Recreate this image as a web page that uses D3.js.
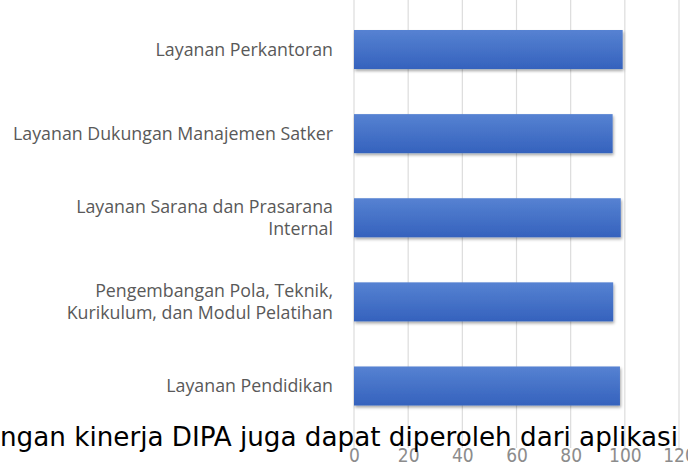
<!DOCTYPE html>
<html>
<head>
<meta charset="utf-8">
<script src="https://cdn.jsdelivr.net/npm/d3@7"></script>
<style>
  body { margin: 0; background: #fff; }
  svg { display: block; }
</style>
</head>
<body>
<script>
// Data
var categories = [
  "Layanan Perkantoran",
  "Layanan Dukungan Manajemen Satker",
  "Layanan Sarana dan Prasarana Internal",
  "Pengembangan Pola, Teknik, Kurikulum, dan Modul Pelatihan",
  "Layanan Pendidikan"
];
var labelLines = [
  ["Layanan Perkantoran"],
  ["Layanan Dukungan Manajemen Satker"],
  ["Layanan Sarana dan Prasarana", "Internal"],
  ["Pengembangan Pola, Teknik,", "Kurikulum, dan Modul Pelatihan"],
  ["Layanan Pendidikan"]
];
var values = [99.2, 95.5, 98.5, 95.7, 98.2];
var tickValues = [0, 20, 40, 60, 80, 100, 120];
var captionText = "ngan kinerja DIPA juga dapat diperoleh dari aplikasi";

var width = 688, height = 464;

var svg = d3.select("body")
  .append("svg")
  .attr("width", width)
  .attr("height", height);

var defs = svg.append("defs");
var grad = defs.append("linearGradient")
  .attr("id", "barGrad")
  .attr("x1", 0).attr("y1", 0).attr("x2", 0).attr("y2", 1);
grad.append("stop").attr("offset", "0%").attr("stop-color", "#5682d2");
grad.append("stop").attr("offset", "100%").attr("stop-color", "#3562bd");

var shadow = defs.append("filter")
  .attr("id", "shadow")
  .attr("x", "-10%").attr("y", "-20%")
  .attr("width", "130%").attr("height", "160%");
shadow.append("feDropShadow")
  .attr("dx", 1).attr("dy", 2)
  .attr("stdDeviation", 1.8)
  .attr("flood-color", "#000")
  .attr("flood-opacity", 0.35);

// Scales
var x = d3.scaleLinear().domain([0, 120]).range([354, 679]);
var y = d3.scaleBand()
  .domain(categories)
  .range([30, 405.5])
  .paddingInner(0.536)
  .paddingOuter(0);

// Gridlines
svg.append("g")
  .selectAll("line")
  .data(tickValues)
  .enter()
  .append("line")
  .attr("x1", function(d) { return x(d); })
  .attr("x2", function(d) { return x(d); })
  .attr("y1", 0)
  .attr("y2", 448)
  .attr("stroke", "#dcdcdc")
  .attr("stroke-width", 1.2);

// Bars
svg.append("g")
  .selectAll("rect")
  .data(values)
  .enter()
  .append("rect")
  .attr("x", x(0))
  .attr("y", function(d, i) { return y(categories[i]); })
  .attr("width", function(d) { return x(d) - x(0); })
  .attr("height", y.bandwidth())
  .attr("fill", "url(#barGrad)")
  .attr("filter", "url(#shadow)");

// Category labels
var lineH = 21.5;
var labels = svg.append("g")
  .selectAll("text")
  .data(labelLines)
  .enter()
  .append("text")
  .attr("text-anchor", "end")
  .attr("font-family", "'Open Sans', 'Noto Sans', sans-serif")
  .attr("font-size", 17.8)
  .attr("fill", "#595959")
  .attr("y", function(d, i) {
    return y(categories[i]) + y.bandwidth() / 2 - (d.length - 1) * lineH / 2;
  });

labels.selectAll("tspan")
  .data(function(d) { return d; })
  .enter()
  .append("tspan")
  .attr("x", 333)
  .attr("dy", function(d, j) { return j === 0 ? "0.35em" : lineH; })
  .text(function(d) { return d; });

// Axis tick labels
var xAxis = d3.axisBottom(x)
  .tickValues(tickValues)
  .tickSize(0)
  .tickPadding(0);

var axisG = svg.append("g")
  .attr("transform", "translate(0,448)")
  .call(xAxis);
axisG.select(".domain").remove();
axisG.selectAll("text")
  .attr("font-family", "'Liberation Sans Narrow', 'DejaVu Sans Condensed', sans-serif")
  .attr("font-size", 19)
  .attr("fill", "#8c8c8c")
  .attr("dy", "0.72em");

// Overlapping caption text from the page
svg.append("text")
  .attr("x", 0)
  .attr("y", 446)
  .attr("font-family", "'DejaVu Sans Condensed', 'DejaVu Sans', sans-serif")
  .attr("font-size", 26)
  .attr("fill", "#000")
  .attr("textLength", 678)
  .attr("lengthAdjust", "spacingAndGlyphs")
  .text(captionText);
</script>
</body>
</html>
